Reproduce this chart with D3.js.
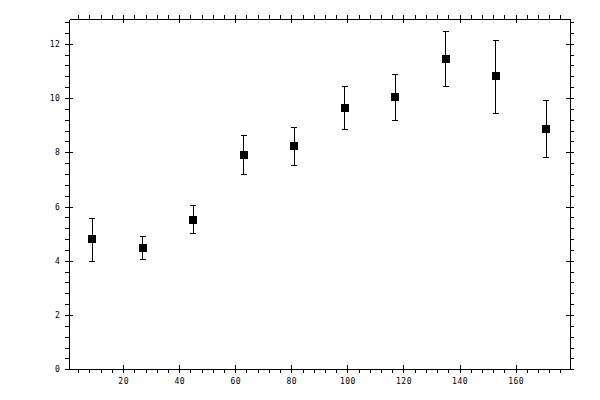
<!DOCTYPE html>
<html>
<head>
<meta charset="utf-8">
<script src="https://cdn.jsdelivr.net/npm/d3@7"></script>
<style>
  body { margin: 0; background: #fff; }
  .tick text { font-family: "DejaVu Sans Mono", monospace; font-size: 8px; fill: #000; letter-spacing: 0.5px; }
</style>
</head>
<body>
<div class="chart"></div>
<script>
// values
const xVals = [9, 27, 45, 63, 81, 99, 117, 135, 153, 171]
const yVals = [4.79, 4.46, 5.49, 7.89, 8.22, 9.62, 10.03, 11.43, 10.80, 8.85]
const yLow  = [3.98, 4.05, 4.99, 7.19, 7.52, 8.85, 9.18, 10.43, 9.44, 7.81]
const yHigh = [5.57, 4.90, 6.05, 8.63, 8.92, 10.43, 10.88, 12.46, 12.13, 9.92]
const xMajor = [20, 40, 60, 80, 100, 120, 140, 160]
const yMajor = [0, 2, 4, 6, 8, 10, 12]

const width = 600, height = 400
const plot = {left: 69.3, right: 570, top: 19.3, bottom: 369.3}

let svg = d3.select(".chart")
            .append("svg")
            .attr("width", width)
            .attr("height", height)
            .attr("shape-rendering", "crispEdges")

let x = d3.scaleLinear()
          .domain([0.8, 179.4])
          .range([plot.left, plot.right])

let y = d3.scaleLinear()
          .domain([0, 12.9])
          .range([plot.bottom, plot.top])

const xMinor = d3.range(4, 180, 4).filter(v => v > 0.8 && v < 179.4)
const yMinor = d3.range(0, 12.9, 0.4)

function styleAxis(g) {
    g.selectAll("path").attr("stroke", "#000").attr("stroke-width", 1)
    g.selectAll("line").attr("stroke", "#000").attr("stroke-width", 1)
}

// minor ticks (outside only)
svg.append("g")
    .attr("transform", "translate(0," + plot.bottom + ")")
    .call(d3.axisBottom(x).tickValues(xMinor).tickSizeInner(4).tickSizeOuter(0).tickFormat(""))
    .call(styleAxis)
svg.append("g")
    .attr("transform", "translate(0," + plot.top + ")")
    .call(d3.axisTop(x).tickValues(xMinor).tickSizeInner(4).tickSizeOuter(0).tickFormat(""))
    .call(styleAxis)
svg.append("g")
    .attr("transform", "translate(" + plot.left + ",0)")
    .call(d3.axisLeft(y).tickValues(yMinor).tickSizeInner(4).tickSizeOuter(0).tickFormat(""))
    .call(styleAxis)
svg.append("g")
    .attr("transform", "translate(" + plot.right + ",0)")
    .call(d3.axisRight(y).tickValues(yMinor).tickSizeInner(4).tickSizeOuter(0).tickFormat(""))
    .call(styleAxis)

// major ticks cross the axis line
let xb = svg.append("g")
    .attr("transform", "translate(0," + plot.bottom + ")")
    .call(d3.axisBottom(x).tickValues(xMajor).tickSizeInner(4).tickSizeOuter(0).tickPadding(6))
    .call(styleAxis)
xb.selectAll(".tick line").attr("y1", -4)
xb.selectAll(".tick text").attr("dy", "0.6em")

let xt = svg.append("g")
    .attr("transform", "translate(0," + plot.top + ")")
    .call(d3.axisTop(x).tickValues(xMajor).tickSizeInner(4).tickSizeOuter(0).tickFormat(""))
    .call(styleAxis)
xt.selectAll(".tick line").attr("y1", 4)

let yl = svg.append("g")
    .attr("transform", "translate(" + plot.left + ",0)")
    .call(d3.axisLeft(y).tickValues(yMajor).tickSizeInner(4).tickSizeOuter(0).tickPadding(5))
    .call(styleAxis)
yl.selectAll(".tick line").attr("x1", 4)

let yr = svg.append("g")
    .attr("transform", "translate(" + plot.right + ",0)")
    .call(d3.axisRight(y).tickValues(yMajor).tickSizeInner(4).tickSizeOuter(0).tickFormat(""))
    .call(styleAxis)
yr.selectAll(".tick line").attr("x1", -4)

// error bars
let bars = svg.append("g")
    .selectAll("g")
    .data(xVals)
    .enter()
    .append("g")
    .attr("stroke", "#000")
    .attr("stroke-width", 1)

bars.append("line")
    .attr("x1", d => x(d)).attr("x2", d => x(d))
    .attr("y1", (d, i) => y(yLow[i])).attr("y2", (d, i) => y(yHigh[i]))
bars.append("line")
    .attr("x1", d => x(d) - 3).attr("x2", d => x(d) + 3)
    .attr("y1", (d, i) => y(yHigh[i])).attr("y2", (d, i) => y(yHigh[i]))
bars.append("line")
    .attr("x1", d => x(d) - 3).attr("x2", d => x(d) + 3)
    .attr("y1", (d, i) => y(yLow[i])).attr("y2", (d, i) => y(yLow[i]))

// square markers
svg.append("g")
    .selectAll("rect")
    .data(xVals)
    .enter()
    .append("rect")
    .attr("x", d => x(d) - 4)
    .attr("y", (d, i) => y(yVals[i]) - 4)
    .attr("width", 8)
    .attr("height", 8)
    .style("fill", "#000")
</script>
</body>
</html>
